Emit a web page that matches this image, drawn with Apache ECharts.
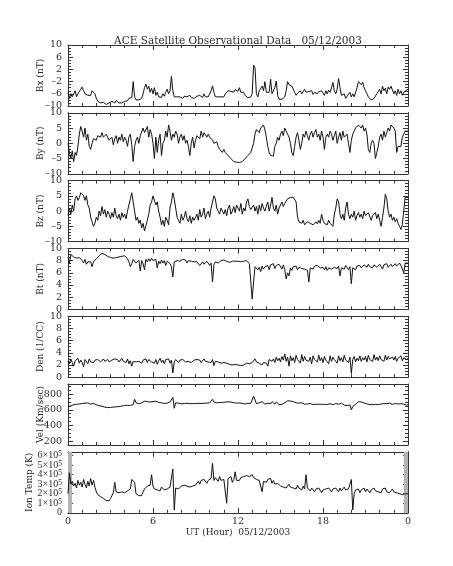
<!DOCTYPE html>
<html><head><meta charset="utf-8">
<script src="https://cdn.jsdelivr.net/npm/echarts@6/dist/echarts.min.js"></script>
<style>html,body{margin:0;padding:0;background:#fff}#c{width:453px;height:566px}</style>
</head><body><div id="c"></div>
<script>
// time step of the samples (hours), 241 samples from 0 to 24 UT
const stepHours = 0.1;

const bx = [
-5.5,-7.5,-6,-7,-6.5,-5,-7,-6,-5.5,-4.5,
-3.8,-5,-6,-5.5,-6.5,-7,-6.5,-5,-4.5,-6,
-7.5,-8.5,-8.5,-9,-9,-8.8,-9.2,-9.5,-9.3,-9,
-9,-8.5,-8.8,-9,-8.2,-8.7,-9,-8.5,-9,-8.8,
-8.5,-8,-8.3,-7.5,-8,-7.2,-2,-7,-8,-8.5,
-8,-8.3,-7.5,-6,-4,-2.8,-4.5,-3.5,-5.5,-4.2,
-6,-4,-6.5,-5.5,-7,-6.5,-7.2,-6,-6.8,-5.5,
-4.5,-6,-5,-0.3,-5,-7,-6.5,-7,-7.3,-7,
-7,-7.5,-6.8,-7.2,-7,-7.5,-6.5,-7.2,-7,-7.5,
-7,-6.8,-7.3,-6.5,-7,-7.2,-6,-7,-6.6,-7,
-6.5,-5,-3.4,-5.5,-7,-7.3,-7,-7.5,-7,-7.3,
-7,-6,-5.5,-5,-4.5,-5.2,-4.8,-5.5,-4.6,-5,
-5.2,-4,-5.5,-6,-5.5,-6.5,-7,-7.3,-7.5,-7,
-6,3.4,2.5,-6,-7,-5,-4.5,-3.5,-5,-2,
-5.5,-6,-5.5,-1.2,-6,-6.5,-4,-1.8,-6.5,-7.8,
-8,-7.8,-7.5,-7,-5,-2,-3,-2.5,-3.5,-4,
-5.5,-6.5,-5.8,-6.2,-5,-6,-6.5,-4.5,-5.5,-6,
-5.2,-5.8,-5,-6.2,-5.5,-5,-6,-5.3,-5.8,-5,
-5.5,-6.5,-5,-6,-4.8,-5.5,-4,-2.3,-5,-6,
-4.5,-1,-4,-6.5,-7,-6,-7.5,-6.8,-7.2,-5.5,
-7,-6,-7,-5.5,-4,-2,-2.5,-3,-2.2,-4,
-5,-6,-7,-7.5,-8,-7.8,-7.5,-7,-6,-6.5,
-4.5,-6,-3.5,-5,-4.2,-6,-3.8,-4.5,-3.5,-4,
-6,-5,-6.5,-4.5,-6,-5,-6.5,-5.5,-6,-4.8,-4.5];

const by = [
0,-3,-5,-2.5,-6,-3,-4,-1,3,5.5,
4,2,5,1,3,-1,-2,0,1.5,2,
1,2.5,3,2,3.5,2,1.5,3,2.5,1,
0.5,2,-0.5,1.5,2.5,0,2,1,3,0.5,
2,1,-1,2,3,-0.5,-6,-1,1,2,
0,2.5,3,5,3.5,4,5.5,2,4.5,3,
0,-5,2,-3,1,3,-4,0,1,4,
2,6,4,1,3,2,4,3,0,2,
3,1,2.5,0,1,-1,-4,0,2,-1.5,
1,2.5,3,1.5,4,2,3.5,3,2,3,
2,2.5,1,0,-0.5,0.5,-1,-2,-2.5,-3,
-2,-3,-3.5,-4,-4.5,-5,-5.5,-6,-6,-6.2,
-6,-6.3,-5.8,-6,-5.5,-5,-4.5,-4,-3.5,-3,
-2.5,0,3,4.5,4,3.5,5,5.5,6,4.5,
2,-1,-3,-4,-3.5,-4.2,-1,0,2,1,
3,4,2.5,5,4,3,2,0,-3,-4,
-1,2,3.5,1,-2,0,3,2,4,2.5,
1,3,4,2,3.5,4.5,2,3,1,4,
2,-2,2,3,2,4,3,1,2.5,4,
0,2,3.5,1,4,2,1.5,3,0,-3,
1,3,4,5,4.5,6,5.5,5,6,4,
5,3,-2,-3,0,1,0,-5,-3,-1,
2,3,1,4,2,3.5,5,4,6,5.5,
5,4,-3,-1,-1.5,-1,2,3,4,3.5,4];

const bz = [
-1.5,1,-1,2,0,4,5,3.5,4.5,6,
6.5,5,3.5,5,2,1,-2,-3.5,-5,-4,
-2,-3,0,-1.5,1.5,-1,0.5,-2,0,-1,
-2.5,-0.5,-2,1,-1.5,-2.5,-1,-3,-0.5,-2,
-1,-2.5,0,2,4,6,3,0,-3,-2,
-4,-3,-5.5,-4,-6.5,-7,-3,-1,2,3,
5,4.5,2,3,0,-2,-4.5,-3,-5,-2,
-3,-4.5,1,3,6,4,1,-2,-3,-4,
-1,-3,-2,0,-2.5,-3.5,-1.5,-4,-2,-3,
-2,-1,-3,0.5,-2,-1,1,-2.5,-1,0,
-2,1,3,5,4,1,0,-1,1,0.5,
-1,0.5,-1.5,1,2,-1,0,1.5,-0.5,2,
1,0,2.5,-1,1,0,3,4,1.5,0.5,
1,2,0,1.5,-1,2,0,2.5,1,0,
1.5,3,0,2,4.5,1,0,2,-1,1,
2,3,1.5,2.5,3,4,3.5,4.5,5,4.5,
5,3,-2,-3.5,-3,-4,-3,-4.5,-4,-3.5,
-3,-4,-3.5,-4.5,-4,-3.5,-4.2,-3,-4,-1,
-3,-4,-3.5,-4.5,-3,-4,-3.5,-5,-1,1,
4,3,-1,-2.5,-1,-3,1,3,-1,-2.5,
-1,-2,0,-3,-1.5,-0.5,-2,-1,-2.5,0,
-1.5,-2,-0.5,-1,-3,-1.5,-2,-0.5,-2.5,-1,
-3,-5,-2,1,5.5,4,0,-2,-1,-3,
-2,-3.5,-2.5,-4,-5,-6,-4.5,-5,4.5,4.8,4.5];

const bt = [
8.5,7.5,9,8.8,8.6,8.9,8.4,8.7,8.5,8.2,
8,7.6,8.2,7.4,7.8,7.5,7.8,7.0,7.8,8.1,
8.3,8.6,8.8,9.0,9.2,9.1,9.0,8.8,8.7,8.6,
8.5,8.7,8.4,8.6,8.5,8.3,8.6,8.8,8.7,8.5,
8.8,8.6,8.3,7.8,7.0,7.5,8.2,8.0,7.6,7.9,
8.1,6.3,8.0,7.5,6.5,8.2,7.8,8.3,7.9,8.4,
8.0,7.8,8.2,6.8,7.9,7.5,8.1,7.6,8.0,7.2,
7.9,8.2,7.5,7.0,5.3,7.8,7.5,8.0,7.7,7.9,
8.0,8.2,7.9,8.1,7.6,8.0,8.3,7.9,8.1,7.8,
7.5,7.8,7.6,7.2,7.5,7.8,7.4,7.6,7.9,7.7,
7.2,7.6,4.5,7.3,7.8,7.9,7.6,7.8,8.0,7.7,
8.1,7.8,7.9,8.0,7.7,8.0,7.9,8.1,7.9,8.0,
7.9,8.1,7.8,8.0,7.9,7.7,8.0,7.8,7.5,7.2,
1.7,4.5,7.0,6.8,6.5,6.9,6.2,7.1,6.6,7.0,
6.8,7.2,6.5,7.3,7.0,7.5,6.7,7.2,6.9,7.4,
7.2,6.6,7.3,6.5,5.0,6.0,5.5,6.8,6.4,7.0,
6.8,7.1,6.5,6.9,7.2,6.7,7.0,6.6,6.9,6.4,
4.5,6.8,7.0,6.6,7.1,6.9,7.2,7.0,6.8,7.1,
6.9,6.5,7.0,6.4,6.8,7.1,6.6,6.3,6.9,7.0,
6.7,7.1,5.5,6.8,7.0,6.6,7.2,6.9,6.5,7.0,
4.2,6.8,7.0,6.5,7.1,6.9,7.2,6.8,7.0,7.3,
7.1,6.9,7.4,7.0,7.2,6.8,7.3,7.1,6.9,7.2,
7.4,7.0,6.6,7.3,7.1,7.5,6.9,7.2,7.4,7.0,
7.3,7.5,7.1,7.4,7.6,7.2,7.5,6.0,7.6,7.5,7.6];

const den = [
2.6,2.2,3.0,2.4,1.8,2.7,2.5,3.1,2.3,2.8,
2.4,1.7,2.9,2.6,2.2,3.0,2.5,2.7,2.4,2.8,
2.6,2.9,2.7,2.5,2.8,3.0,2.6,2.7,2.9,2.5,
2.7,2.8,2.6,3.0,2.7,2.9,2.5,2.8,3.1,2.6,
2.8,2.4,3.0,2.2,2.7,1.8,2.6,2.9,2.5,2.8,
2.6,2.9,2.3,2.8,2.6,3.0,2.4,2.9,2.7,2.5,
2.8,2.3,2.9,2.1,2.7,3.1,2.4,2.8,2.2,2.9,
2.6,3.0,2.3,2.8,0.7,2.5,2.9,2.7,2.4,2.8,
2.6,2.9,2.7,2.5,2.8,2.6,2.9,2.4,2.7,2.8,
2.5,2.9,2.6,2.8,2.4,2.7,3.0,2.6,2.8,2.5,
2.7,2.4,2.9,1.9,2.6,2.8,2.5,2.7,2.3,2.6,
2.4,2.2,2.3,2.0,2.1,1.9,2.0,1.8,2.1,1.9,
2.0,2.1,1.9,2.2,2.0,2.1,2.3,2.0,2.2,2.1,
2.4,2.6,3.0,2.5,2.8,2.3,2.2,2.0,2.4,2.1,
2.3,1.8,2.9,3.2,2.6,3.0,2.4,3.3,2.7,3.1,
2.5,3.4,2.8,3.8,2.6,3.3,1.8,3.5,2.7,3.2,
2.4,3.6,2.9,3.1,2.3,3.7,2.6,3.4,2.8,3.0,
2.6,3.3,2.2,3.5,2.9,3.1,2.5,3.6,2.7,3.2,
2.4,3.4,2.8,3.0,2.2,3.5,2.6,3.3,2.9,3.1,
2.3,3.5,2.7,3.2,2.5,3.6,2.8,3.0,2.4,3.3,
0.6,2.9,3.4,2.5,3.1,2.7,3.5,2.6,3.2,2.8,
3.4,2.5,3.6,2.9,3.2,2.6,3.7,2.8,3.3,2.7,
3.5,2.9,3.2,2.6,3.6,2.8,3.4,3.0,2.7,3.3,
2.8,3.4,2.6,3.1,2.9,3.5,2.7,3.2,3.0,2.9,3.1];

const vel = [
640,655,650,660,665,658,670,662,675,668,
680,690,685,695,688,680,672,690,682,670,
665,660,652,648,645,640,635,630,628,632,
630,628,635,640,638,645,642,650,648,652,
655,650,658,660,656,662,665,735,690,680,
678,685,690,700,710,695,705,712,700,695,
705,698,710,702,695,700,690,685,680,690,
685,695,700,705,760,620,690,700,685,680,
678,682,680,676,685,680,678,684,680,682,
680,678,683,685,680,688,684,690,686,688,
690,692,735,700,695,690,688,692,698,695,
700,698,695,702,705,700,695,690,688,685,
685,688,680,682,678,675,680,684,678,680,
700,775,760,680,675,690,670,705,680,672,
670,685,690,678,705,680,672,700,675,668,
665,670,680,690,700,715,720,712,718,705,
700,690,695,685,680,690,678,672,668,675,
700,680,672,668,675,670,665,672,668,670,
665,670,675,668,672,678,670,665,672,680,
690,670,675,685,665,660,668,655,650,662,
600,640,655,670,690,705,712,700,695,688,
680,675,670,668,672,665,660,670,675,665,
668,675,682,678,690,680,675,685,678,670,
672,680,668,675,670,678,665,672,668,660,665];

// ion temperature in units of 1e5 K
const temp = [
2.0,4.2,3.0,3.3,2.8,3.1,2.6,3.4,2.9,3.2,
2.7,3.5,3.0,2.6,3.3,2.8,3.6,2.9,3.4,2.7,
2.2,1.9,1.8,1.7,1.6,1.5,1.4,1.3,1.2,1.25,
1.5,1.8,2.1,3.2,2.2,2.0,2.1,1.9,2.2,2.0,
2.1,2.0,2.3,2.1,2.5,3.5,3.7,3.2,2.0,1.8,
1.8,1.9,1.8,2.2,2.5,2.4,2.8,3.0,2.9,4.0,
2.8,2.5,2.7,2.4,2.6,2.3,2.7,2.5,2.4,2.6,
2.5,2.3,2.7,2.5,4.6,0.3,2.6,2.8,2.5,2.7,
2.8,2.6,2.9,2.7,2.8,3.0,2.7,2.9,2.8,3.0,
2.9,3.1,3.3,3.0,3.4,3.2,3.5,3.3,3.1,3.4,
3.3,3.6,5.2,3.4,3.7,3.5,3.3,3.8,3.4,3.6,
3.5,3.3,1.0,3.6,3.4,3.8,3.2,3.5,4.3,3.4,
3.6,3.4,3.7,3.5,3.8,4.0,3.9,4.1,3.8,3.9,
4.0,3.7,3.8,3.5,3.7,3.4,3.6,2.2,3.3,3.1,
3.2,3.5,3.3,3.6,3.1,3.4,3.0,2.8,3.1,2.9,
2.8,3.0,2.7,2.9,2.6,2.8,3.0,2.7,2.9,2.6,
2.8,2.5,2.9,2.6,2.7,2.4,2.8,2.5,4.0,2.6,
2.5,2.3,2.6,2.4,2.2,2.5,2.3,2.6,2.4,2.1,
2.4,2.2,2.5,2.3,2.6,2.4,2.2,2.5,2.3,2.6,
2.4,2.2,2.6,2.3,2.5,2.7,2.4,2.2,2.5,2.3,
3.5,0.3,2.0,2.4,2.2,2.5,2.1,2.4,2.3,2.6,
2.2,2.5,2.3,2.1,2.4,2.2,2.6,2.3,2.5,2.2,
2.4,2.1,2.5,2.3,2.6,2.2,2.4,2.1,2.3,2.5,
2.2,2.4,2.1,2.3,2.0,2.2,1.9,2.1,2.0,1.9,2.0];

// shaded (no data) intervals in the ion temperature panel, hours
const tempGaps = [[0, 0.28], [23.7, 24]];

// tick labels
const hourTicks = [0, 6, 12, 18, 24];
const hourTickLabels = ['0', '6', '12', '18', '0'];
const bxTicks = [-10, -6, -2, 2, 6, 10];
const byTicks = [-10, -5, 0, 5, 10];
const bzTicks = [-10, -5, 0, 5, 10];
const btTicks = [0, 2, 4, 6, 8, 10];
const denTicks = [0, 2, 4, 6, 8, 10];
const velTicks = [200, 400, 600, 800];
const tempTicks = [0, 1, 2, 3, 4, 5, 6];   // ×10^5 K

const titleText = 'ACE Satellite Observational Data   05/12/2003';
const xTitleText = 'UT (Hour)  05/12/2003';

function steps(a, b, s) { const r = []; for (let v = a; v <= b + 1e-9; v += s) r.push(Math.round(v * 1000) / 1000); return r; }

const FONT = 'DejaVu Serif';
const SCI_FONT = 'Liberation Serif';
const INK = '#2a2a2a';
const TICK_FS = 9.5;
const NAME_FS = 9;

const panels = [
  { label: 'Bx (nT)', data: bx, min: -10, max: 10, ticks: bxTicks, minor: steps(-10, 10, 1), gap: 23 },
  { label: 'By (nT)', data: by, min: -10, max: 10, ticks: byTicks, minor: steps(-10, 10, 1), gap: 23 },
  { label: 'Bz (nT)', data: bz, min: -10, max: 10, ticks: bzTicks, minor: steps(-10, 10, 1), gap: 23 },
  { label: 'Bt (nT)', data: bt, min: 0, max: 10, ticks: btTicks, minor: steps(0, 10, 0.5), gap: 23 },
  { label: 'Den (1/CC)', data: den, min: 0, max: 10, ticks: denTicks, minor: steps(0, 10, 0.5), gap: 23 },
  { label: 'Vel (Km/sec)', data: vel, min: 150, max: 930, ticks: velTicks, minor: steps(150, 900, 50), gap: 23 },
  { label: 'Ion Temp (K)', data: temp, min: 0, max: 6.4, ticks: tempTicks, minor: steps(0, 6.4, 0.2), gap: 34, sci: true, gaps: tempGaps }
];

const option = {
  animation: false,
  backgroundColor: '#fff',
  title: { text: titleText, left: 233, top: 31, textAlign: 'center',
    textStyle: { fontFamily: FONT, fontSize: 10.5, fontWeight: 'normal', color: INK } },
  grid: [], xAxis: [], yAxis: [], series: []
};

const lineStyle = { color: '#333', width: 1 };
function labelStyle(values, p) {
  const lab = { show: true, customValues: values, margin: 6, fontFamily: FONT, fontSize: TICK_FS, color: INK,
    hideOverlap: false, showMinLabel: true, showMaxLabel: true,
    formatter: v => String(v).replace('-', '\u2013') };
  if (p.sci) {
    lab.formatter = v => v === 0 ? '{n|0}' : '{n|' + v + '×10}{s|5}';
    lab.rich = { n: { fontFamily: SCI_FONT, fontSize: 10, color: INK, lineHeight: 11 },
                 s: { fontFamily: SCI_FONT, fontSize: 7.5, color: INK, verticalAlign: 'top', lineHeight: 11 } };
  }
  return lab;
}
panels.forEach((p, i) => {
  const top = 45 + i * 67.8;
  option.grid.push({ left: 68, top: top, width: 340, height: 61, show: false });
  const last = i === panels.length - 1;
  const xb = { gridIndex: i, type: 'value', min: 0, max: 24, splitLine: { show: false } };
  const majX = { show: true, inside: true, length: 5, customValues: hourTicks, lineStyle: lineStyle };
  const minX = { show: true, inside: true, length: 3, customValues: steps(0, 24, 1), lineStyle: lineStyle };
  option.xAxis.push(
    Object.assign({}, xb, { position: 'bottom', axisLine: { show: true, onZero: false, lineStyle: lineStyle }, axisTick: majX,
      axisLabel: { show: last, customValues: hourTicks, margin: 4, fontFamily: FONT, fontSize: TICK_FS, color: INK,
        hideOverlap: false, showMinLabel: true, showMaxLabel: true,
        formatter: v => hourTickLabels[hourTicks.indexOf(v)] },
      name: last ? xTitleText : '', nameLocation: 'middle', nameGap: 15, nameMoveOverlap: false,
      nameTextStyle: { fontFamily: FONT, fontSize: NAME_FS, color: INK } }),
    Object.assign({}, xb, { position: 'bottom', axisLine: { show: false, onZero: false }, axisTick: minX, axisLabel: { show: false } }),
    Object.assign({}, xb, { position: 'top', axisLine: { show: true, onZero: false, lineStyle: lineStyle }, axisTick: majX, axisLabel: { show: false } }),
    Object.assign({}, xb, { position: 'top', axisLine: { show: false, onZero: false }, axisTick: minX, axisLabel: { show: false } })
  );
  const yb = { gridIndex: i, type: 'value', min: p.min, max: p.max, splitLine: { show: false } };
  const majY = { show: true, inside: true, length: 5, customValues: p.ticks, lineStyle: lineStyle };
  const minY = { show: true, inside: true, length: 3, customValues: p.minor, lineStyle: lineStyle };
  // split labels over two left axes so that tightly packed labels never collide with each other
  const labA = p.sci ? p.ticks.filter((v, k) => k % 2 === 0) : p.ticks;
  const labB = p.sci ? p.ticks.filter((v, k) => k % 2 === 1) : [];
  option.yAxis.push(
    Object.assign({}, yb, { position: 'left', axisLine: { show: true, onZero: false, lineStyle: lineStyle }, axisTick: majY,
      axisLabel: labelStyle(labA, p),
      name: p.label, nameLocation: 'middle', nameGap: p.gap, nameRotate: 90, nameMoveOverlap: false,
      nameTextStyle: { fontFamily: FONT, fontSize: NAME_FS, color: INK } }),
    Object.assign({}, yb, { position: 'left', axisLine: { show: false, onZero: false }, axisTick: minY,
      axisLabel: labB.length ? labelStyle(labB, p) : { show: false } }),
    Object.assign({}, yb, { position: 'right', axisLine: { show: true, onZero: false, lineStyle: lineStyle }, axisTick: majY, axisLabel: { show: false } }),
    Object.assign({}, yb, { position: 'right', axisLine: { show: false, onZero: false }, axisTick: minY, axisLabel: { show: false } })
  );
  const s = {
    type: 'line', xAxisIndex: i * 4, yAxisIndex: i * 4, showSymbol: false, symbol: 'none',
    lineStyle: { color: '#111', width: 1 }, silent: true,
    data: p.data.map((v, k) => [Math.round(k * stepHours * 1000) / 1000, v])
  };
  if (p.gaps) {
    s.markArea = { silent: true, itemStyle: { color: '#b3b3b3' },
      data: p.gaps.map(g => [{ xAxis: g[0] }, { xAxis: g[1] }]) };
  }
  option.series.push(s);
});

const chart = echarts.init(document.getElementById('c'), null, { renderer: 'canvas' });
chart.setOption(option);
</script>
</body></html>
